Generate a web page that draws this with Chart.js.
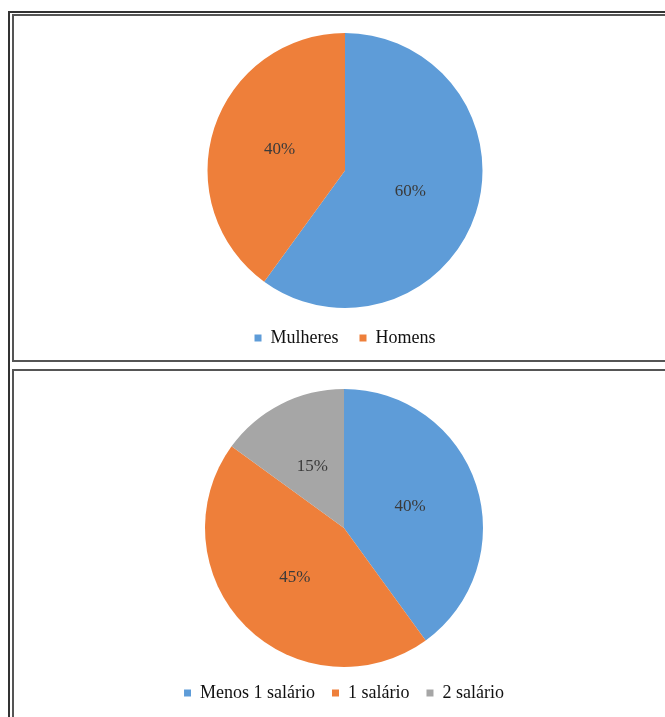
<!DOCTYPE html>
<html>
<head>
<meta charset="utf-8">
<script src="https://cdn.jsdelivr.net/npm/chart.js@4"></script>
<style>
  html, body { margin: 0; padding: 0; background: #fff; overflow: hidden; }
  body { width: 665px; height: 717px; position: relative; }
  .outer { position: absolute; left: 8px; top: 11px; width: 720px; height: 760px;
           border-left: 2px solid #333; border-top: 2px solid #333; }
  .cell { position: absolute; left: 12px; width: 720px; border: 2px solid #555; }
  #cell1 { top: 14px; height: 344px; }
  #cell2 { top: 369px; height: 400px; }
  canvas { position: absolute; }
  #sexo { left: 14px; top: 16px; }
  #renda { left: 14px; top: 372px; }
</style>
</head>
<body>
<div class="outer"></div>
<div class="cell" id="cell1"></div>
<div class="cell" id="cell2"></div>
<canvas id="sexo" width="662" height="341"></canvas>
<canvas id="renda" width="660" height="340"></canvas>
<script>
// data
const sexoLabels = ['Mulheres', 'Homens'];
const sexoValues = [60, 40];
const sexoColors = ['#5E9CD8', '#EE7F3A'];

const rendaLabels = ['Menos 1 salário', '1 salário', '2 salário'];
const rendaValues = [40, 45, 15];
const rendaColors = ['#5E9CD8', '#EE7F3A', '#A6A6A6'];

const serif = "'Liberation Serif', 'Times New Roman', serif";

// percent labels in the middle of each slice
const pctLabels = {
    id: 'pctLabels',
    afterDatasetsDraw(chart) {
        const ctx = chart.ctx;
        const meta = chart.getDatasetMeta(0);
        const values = chart.data.datasets[0].data;
        ctx.save();
        ctx.font = '17px ' + serif;
        ctx.fillStyle = '#3a3a3a';
        ctx.textAlign = 'center';
        ctx.textBaseline = 'middle';
        meta.data.forEach((arc, i) => {
            const p = arc.tooltipPosition();
            ctx.fillText(values[i] + '%', p.x, p.y);
        });
        ctx.restore();
    }
};

function makePie(canvasId, labels, values, colors, padTop, legendPad) {
    const ctx = document.getElementById(canvasId).getContext('2d');
    return new Chart(ctx, {
        type: 'pie',
        data: {
            labels: labels,
            datasets: [{
                data: values,
                backgroundColor: colors,
                borderWidth: 0
            }]
        },
        options: {
            responsive: false,
            animation: false,
            layout: { padding: { top: padTop, bottom: 0, left: 0, right: 0 } },
            plugins: {
                tooltip: { enabled: false },
                legend: {
                    position: 'bottom',
                    labels: {
                        boxWidth: 7,
                        boxHeight: 7,
                        padding: legendPad,
                        color: '#111',
                        font: { family: serif, size: 18 }
                    }
                }
            }
        },
        plugins: [pctLabels]
    });
}

makePie('sexo', sexoLabels, sexoValues, sexoColors, 17, 21);
makePie('renda', rendaLabels, rendaValues, rendaColors, 17, 17);
</script>
</body>
</html>
